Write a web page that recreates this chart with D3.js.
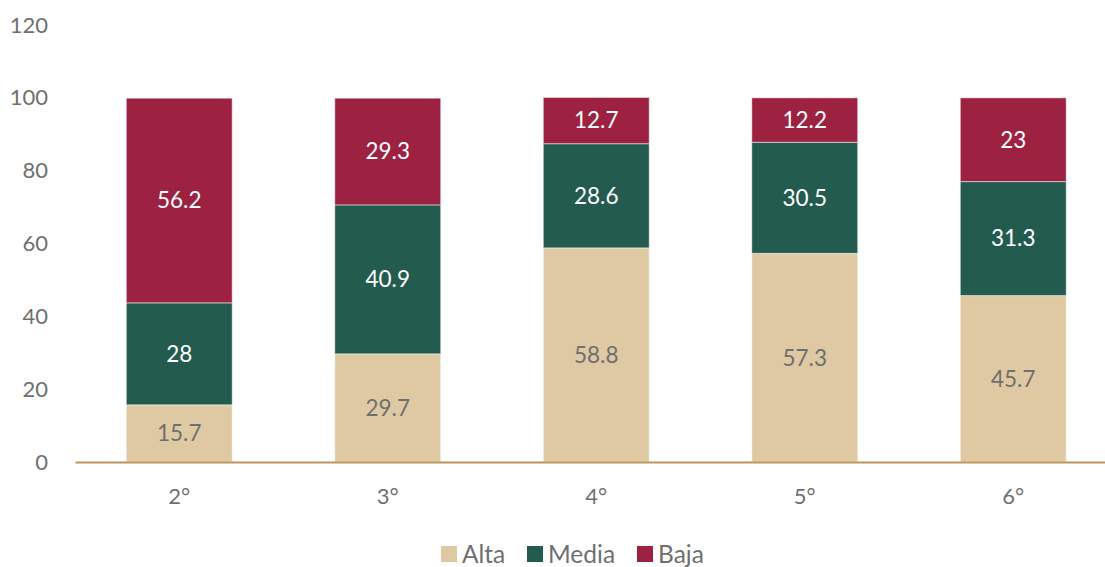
<!DOCTYPE html>
<html>
<head>
<meta charset="utf-8">
<script src="https://cdn.jsdelivr.net/npm/d3@7"></script>
<style>
  body { margin: 0; background: #fff; }
  text { font-family: "Source Sans Pro", Lato, "Noto Sans", sans-serif; }
</style>
</head>
<body>
<script>
// data
var grados = ["2°", "3°", "4°", "5°", "6°"];
var alta = [15.7, 29.7, 58.8, 57.3, 45.7];
var media = [28, 40.9, 28.6, 30.5, 31.3];
var baja = [56.2, 29.3, 12.7, 12.2, 23];
var series = ["Alta", "Media", "Baja"];
var colores = ["#dec9a2", "#235b4e", "#9d2242"];
var yTicks = [0, 20, 40, 60, 80, 100, 120];

var width = 1105;
var height = 567;
var margin = {top: 25, right: 0, bottom: 105, left: 75};

var svg = d3.select("body")
  .append("svg")
  .attr("width", width)
  .attr("height", height);

// band range runs past the right edge a bit, like the original
var x = d3.scaleBand()
  .domain(grados)
  .range([margin.left, margin.left + 1042.5])
  .paddingInner(0.492)
  .paddingOuter(0.246);

var y = d3.scaleLinear()
  .domain([0, 120])
  .range([height - margin.bottom, margin.top]);

// stack the rows
var rows = grados.map(function(g, i) {
  return {grado: g, Alta: alta[i], Media: media[i], Baja: baja[i]};
});
var stacked = d3.stack().keys(series)(rows);

// y axis (labels only)
var yAxis = svg.append("g")
  .attr("transform", `translate(${margin.left - 27}, 0)`)
  .call(d3.axisLeft(y).tickValues(yTicks).tickSize(0).tickPadding(0));
yAxis.select(".domain").remove();
yAxis.selectAll("text")
  .attr("fill", "#6f6f6f")
  .style("font-size", "22px");

// bars
var layers = svg.append("g").selectAll("g")
  .data(stacked)
  .join("g")
  .attr("fill", function(d, i) { return colores[i]; });

layers.selectAll("rect")
  .data(function(d) { return d; })
  .join("rect")
  .attr("x", function(d) { return x(d.data.grado); })
  .attr("y", function(d) { return y(d[1]); })
  .attr("width", x.bandwidth())
  .attr("height", function(d) { return y(d[0]) - y(d[1]); })
  .attr("stroke", "#ffffff")
  .attr("stroke-opacity", 0.5)
  .attr("stroke-width", 1);

// value labels
layers.each(function(layer, i) {
  d3.select(this).selectAll("text")
    .data(layer)
    .join("text")
    .attr("x", function(d) { return x(d.data.grado) + x.bandwidth() / 2; })
    .attr("y", function(d) { return (y(d[0]) + y(d[1])) / 2; })
    .attr("dy", "0.35em")
    .attr("text-anchor", "middle")
    .attr("fill", i === 0 ? "#6f6f6f" : "#ffffff")
    .style("font-size", "22.5px")
    .text(function(d) { return String(+(d[1] - d[0]).toFixed(1)); });
});

// x axis
var xAxis = svg.append("g")
  .attr("transform", `translate(0, ${y(0)})`)
  .call(d3.axisBottom(x).tickSize(0).tickPadding(26));
xAxis.select(".domain")
  .attr("stroke", "#bc955c")
  .attr("stroke-width", 2);
xAxis.selectAll("text")
  .attr("fill", "#6f6f6f")
  .style("font-size", "22px");

// legend
var legendX = [441, 527, 637];
var legend = svg.append("g").selectAll("g")
  .data(series)
  .join("g")
  .attr("transform", function(d, i) { return `translate(${legendX[i]}, 546)`; });
legend.append("rect")
  .attr("width", 16)
  .attr("height", 16)
  .attr("fill", function(d, i) { return colores[i]; });
legend.append("text")
  .attr("x", 21)
  .attr("y", 8)
  .attr("dy", "0.35em")
  .attr("fill", "#6f6f6f")
  .style("font-size", "24.5px")
  .text(function(d) { return d; });
</script>
</body>
</html>
